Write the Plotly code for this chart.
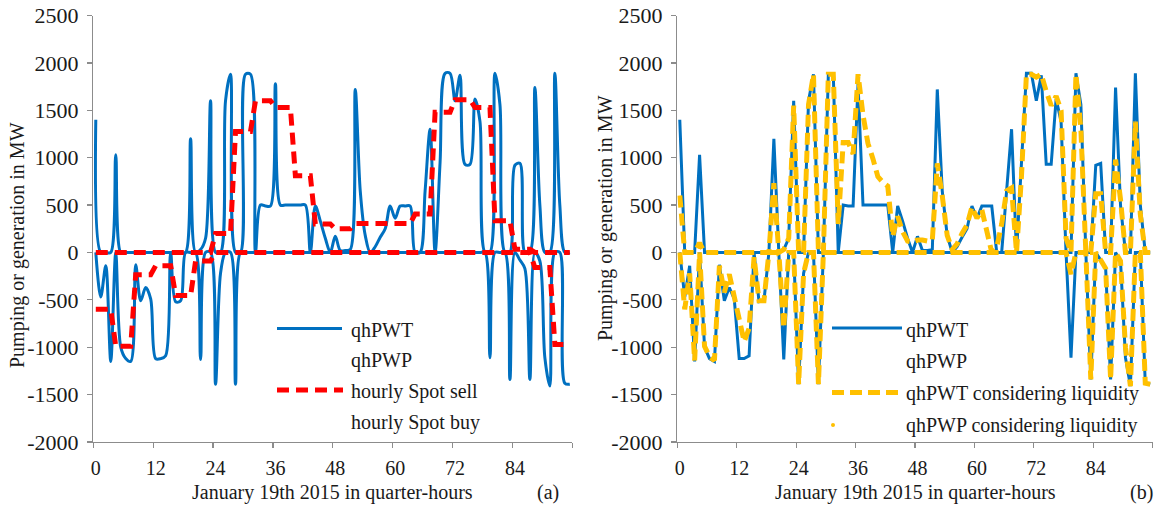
import numpy as np
import plotly.graph_objects as go

# ---------------- data ----------------
quarter_hours = list(range(96))
x_tick_labels = ["0", "12", "24", "36", "48", "60", "72", "84"]
x_tick_values = [0, 12, 24, 36, 48, 60, 72, 84]
y_tick_values = [-2000, -1500, -1000, -500, 0, 500, 1000, 1500, 2000, 2500]
y_tick_labels = ["-2000", "-1500", "-1000", "-500", "0", "500", "1000", "1500", "2000", "2500"]

qhPWT = [1400, 0, 0, 0, 1030, 0, 0, 0, 0, 0, 0, 0, 0, 0, 0, 0,
         0, 0, 0, 1200, 0, 30, 150, 1600, 0, 0, 1600, 1880, 0, 0, 1880, 1880,
         0, 500, 490, 490, 1780, 500, 500, 500, 500, 500, 500, 0, 490, 330, 150, 0,
         170, 20, 20, 30, 1720, 650, 180, 0, 60, 160, 250, 490, 360, 490, 490, 490,
         0, 0, 650, 1300, 0, 950, 1890, 1890, 1600, 1870, 930, 930, 1620, 1380, 0, 0,
         1890, 1560, 0, 0, 920, 940, 0, 0, 1740, 500, 0, 0, 1890, 500, 0, 0]

qhPWP = [0, -470, -140, -1150, 0, -1000, -1120, -1150, -130, -510, -370, -490, -1120, -1120, -1090, 0,
         -520, -510, 0, 0, 0, -1130, 0, 0, -1390, -220, 0, 0, -1390, 0, 0, 0,
         0, 0, 0, 0, 0, 0, 0, 0, 0, 0, 0, 0, 0, 0, 0, 0,
         0, 0, 0, 0, 0, 0, 0, 0, 0, 0, 0, 0, 0, 0, 0, 0,
         0, 0, 0, 0, 0, 0, 0, 0, 0, 0, 0, 0, 0, 0, 0, -1110,
         0, 0, 0, -1340, 0, -80, -170, -1340, 0, -90, -1110, -1410, 0, 0, -1380, -1390]

qhPWT_liquidity = [600, 0, 0, 0, 100, 0, 0, 0, 0, 0, 0, 0, 0, 0, 0, 0,
                   0, 0, 0, 730, 0, 30, 150, 1550, 0, 0, 1560, 1880, 0, 0, 1880, 1880,
                   300, 1160, 1160, 1040, 1880, 1450, 1150, 990, 800, 740, 700, 170, 380, 220, 120, 110,
                   130, 130, 120, 130, 940, 600, 180, 30, 90, 200, 290, 480, 360, 450, 250, 0,
                   50, 300, 650, 680, 0, 800, 1880, 1880, 1850, 1880, 1700, 1550, 1650, 1500, 150, 0,
                   1880, 1300, 0, 0, 620, 620, 0, 0, 980, 560, 0, 0, 1380, 400, 0, 0]

qhPWP_liquidity = [0, -600, -220, -1140, 0, -990, -1100, -1140, -140, -420, -230, -460, -720, -940, -800, -50,
                   -510, -510, 0, 0, 0, -800, 0, 0, -1390, -220, 0, 0, -1390, 0, 0, 0,
                   0, 0, 0, 0, 0, 0, 0, 0, 0, 0, 0, 0, 0, 0, 0, 0,
                   0, 0, 0, 0, 0, 0, 0, 0, 0, 0, 0, 0, 0, 0, 0, 0,
                   0, 0, 0, 0, 0, 0, 0, 0, 0, 0, 0, 0, 0, 0, 0, -230,
                   0, 0, 0, -1340, 0, -80, -170, -1340, 0, -90, -1000, -1410, 0, 0, -1380, -1390]

# hourly spot volumes (24 hours), shown on the quarter-hour axis
spot_sell_hourly = [0, 0, 0, 0, 0, 0, 200, 1275, 1600, 1530, 810, 300,
                    250, 305, 305, 305, 405, 1480, 1610, 1530, 335, 35, 0, 0]
spot_buy_hourly = [-600, -990, -235, -140, -455, -90, 0, 0, 0, 0, 0, 0,
                   0, 0, 0, 0, 0, 0, 0, 0, 0, 0, -160, -970]

spot_sell = list(np.repeat(spot_sell_hourly, 4))
spot_buy = list(np.repeat(spot_buy_hourly, 4))

# ---------------- styling ----------------
W, H = 1163, 507
BLUE = "#0070C0"
RED = "#FF0000"
YELLOW = "#FFC000"
AXIS = "#8C8C8C"
TXT = "#1a1a1a"
SERIF = "Liberation Serif, Times New Roman, serif"


def px(x):
    return x / W


def py(y):
    return 1 - y / H


fig = go.Figure()

# panel (a)
fig.add_trace(go.Scatter(x=quarter_hours, y=qhPWT, mode="lines", name="qhPWT",
                         line=dict(color=BLUE, width=3, shape="spline", smoothing=0.9),
                         xaxis="x", yaxis="y", showlegend=False))
fig.add_trace(go.Scatter(x=quarter_hours, y=qhPWP, mode="lines", name="qhPWP",
                         line=dict(color=BLUE, width=3, shape="spline", smoothing=0.9),
                         xaxis="x", yaxis="y", showlegend=False))
fig.add_trace(go.Scatter(x=quarter_hours, y=spot_sell, mode="lines", name="hourly Spot sell",
                         line=dict(color=RED, width=5, dash="12px,7px"),
                         xaxis="x", yaxis="y", showlegend=False))
fig.add_trace(go.Scatter(x=quarter_hours, y=spot_buy, mode="lines", name="hourly Spot buy",
                         line=dict(color=RED, width=5, dash="12px,7px"),
                         xaxis="x", yaxis="y", showlegend=False))

# panel (b)
fig.add_trace(go.Scatter(x=quarter_hours, y=qhPWT, mode="lines", name="qhPWT",
                         line=dict(color=BLUE, width=3),
                         xaxis="x2", yaxis="y2", showlegend=False))
fig.add_trace(go.Scatter(x=quarter_hours, y=qhPWP, mode="lines", name="qhPWP",
                         line=dict(color=BLUE, width=3),
                         xaxis="x2", yaxis="y2", showlegend=False))
fig.add_trace(go.Scatter(x=quarter_hours, y=qhPWT_liquidity, mode="lines",
                         name="qhPWT considering liquidity",
                         line=dict(color=YELLOW, width=5, dash="12px,6px"),
                         xaxis="x2", yaxis="y2", showlegend=False))
fig.add_trace(go.Scatter(x=quarter_hours, y=qhPWP_liquidity, mode="lines",
                         name="qhPWP considering liquidity",
                         line=dict(color=YELLOW, width=5, dash="12px,6px"),
                         xaxis="x2", yaxis="y2", showlegend=False))

ydom = [py(442), py(15.5)]
yax = dict(range=[-2000, 2500], tickmode="array", tickvals=y_tick_values, ticktext=y_tick_labels,
           showgrid=False, zeroline=False,
           showline=True, linecolor=AXIS, linewidth=1.3, ticks="outside", ticklen=5,
           tickwidth=1.3, tickcolor=AXIS, ticklabelstandoff=4,
           tickfont=dict(family=SERIF, size=22, color=TXT), domain=ydom, automargin=False)
minor_vals = [-0.5 + 12 * k for k in range(9)]
xax = dict(range=[-0.5, 95.5], tickmode="array", tickvals=x_tick_values, ticktext=x_tick_labels,
           ticks="", showgrid=False, zeroline=False, showline=True, linecolor=AXIS,
           linewidth=1.3, ticklabelstandoff=8,
           tickfont=dict(family=SERIF, size=20, color=TXT), automargin=False,
           minor=dict(ticks="outside", tickmode="array", tickvals=minor_vals, ticklen=5,
                      tickwidth=1.3, tickcolor=AXIS, showgrid=False))

fig.update_layout(
    width=W, height=H, margin=dict(l=0, r=0, t=0, b=0),
    paper_bgcolor="white", plot_bgcolor="white", showlegend=False,
    xaxis=dict(xax, domain=[px(93.3), px(572.3)], anchor="y"),
    yaxis=dict(yax, anchor="x"),
    xaxis2=dict(xax, domain=[px(677.3), px(1152.7)], anchor="y2"),
    yaxis2=dict(yax, anchor="x2"),
)

shapes = []
ann = []


def text(x, y, s, anchor="left", angle=0, size=20):
    ann.append(dict(x=px(x), y=py(y), xref="paper", yref="paper", text=s, showarrow=False,
                    xanchor=anchor, yanchor="middle", textangle=angle,
                    font=dict(family=SERIF, size=size, color=TXT)))


# legend (a)
shapes.append(dict(type="line", xref="paper", yref="paper", x0=px(277), x1=px(342),
                   y0=py(328.5), y1=py(328.5), line=dict(color=BLUE, width=3)))
shapes.append(dict(type="line", xref="paper", yref="paper", x0=px(277), x1=px(343),
                   y0=py(390), y1=py(390), line=dict(color=RED, width=5, dash="12px,7px")))
text(349, 330, "qhPWT")
text(349, 360.5, "qhPWP")
text(349, 391.5, "hourly Spot sell")
text(349, 422.5, "hourly Spot buy")

# legend (b)
shapes.append(dict(type="line", xref="paper", yref="paper", x0=px(832), x1=px(902),
                   y0=py(328), y1=py(328), line=dict(color=BLUE, width=3)))
shapes.append(dict(type="line", xref="paper", yref="paper", x0=px(832), x1=px(902),
                   y0=py(392.5), y1=py(392.5), line=dict(color=YELLOW, width=5, dash="12px,6px")))
shapes.append(dict(type="circle", xref="paper", yref="paper", x0=px(831), x1=px(835),
                   y0=py(427), y1=py(423), fillcolor=YELLOW, line=dict(width=0)))
text(903.5, 330, "qhPWT")
text(903.5, 361.5, "qhPWP")
text(903.5, 393, "qhPWT considering liquidity")
text(903.5, 425, "qhPWP considering liquidity")

# axis titles and panel labels
text(332.5, 492, "January 19th 2015 in quarter-hours", anchor="center")
text(915, 492, "January 19th 2015 in quarter-hours", anchor="center")
text(548, 492, "(a)", anchor="center")
text(1141, 492, "(b)", anchor="center")
text(17.5, 245.5, "Pumping or generation in MW", anchor="center", angle=-90)
text(605.5, 218.5, "Pumping or generation in MW", anchor="center", angle=-90)

fig.update_layout(shapes=shapes, annotations=ann)
fig.write_html(
    "out.html",
    config={"displayModeBar": False, "staticPlot": True},
    post_script="document.body.style.margin='0px';document.body.style.overflow='hidden';",
)
